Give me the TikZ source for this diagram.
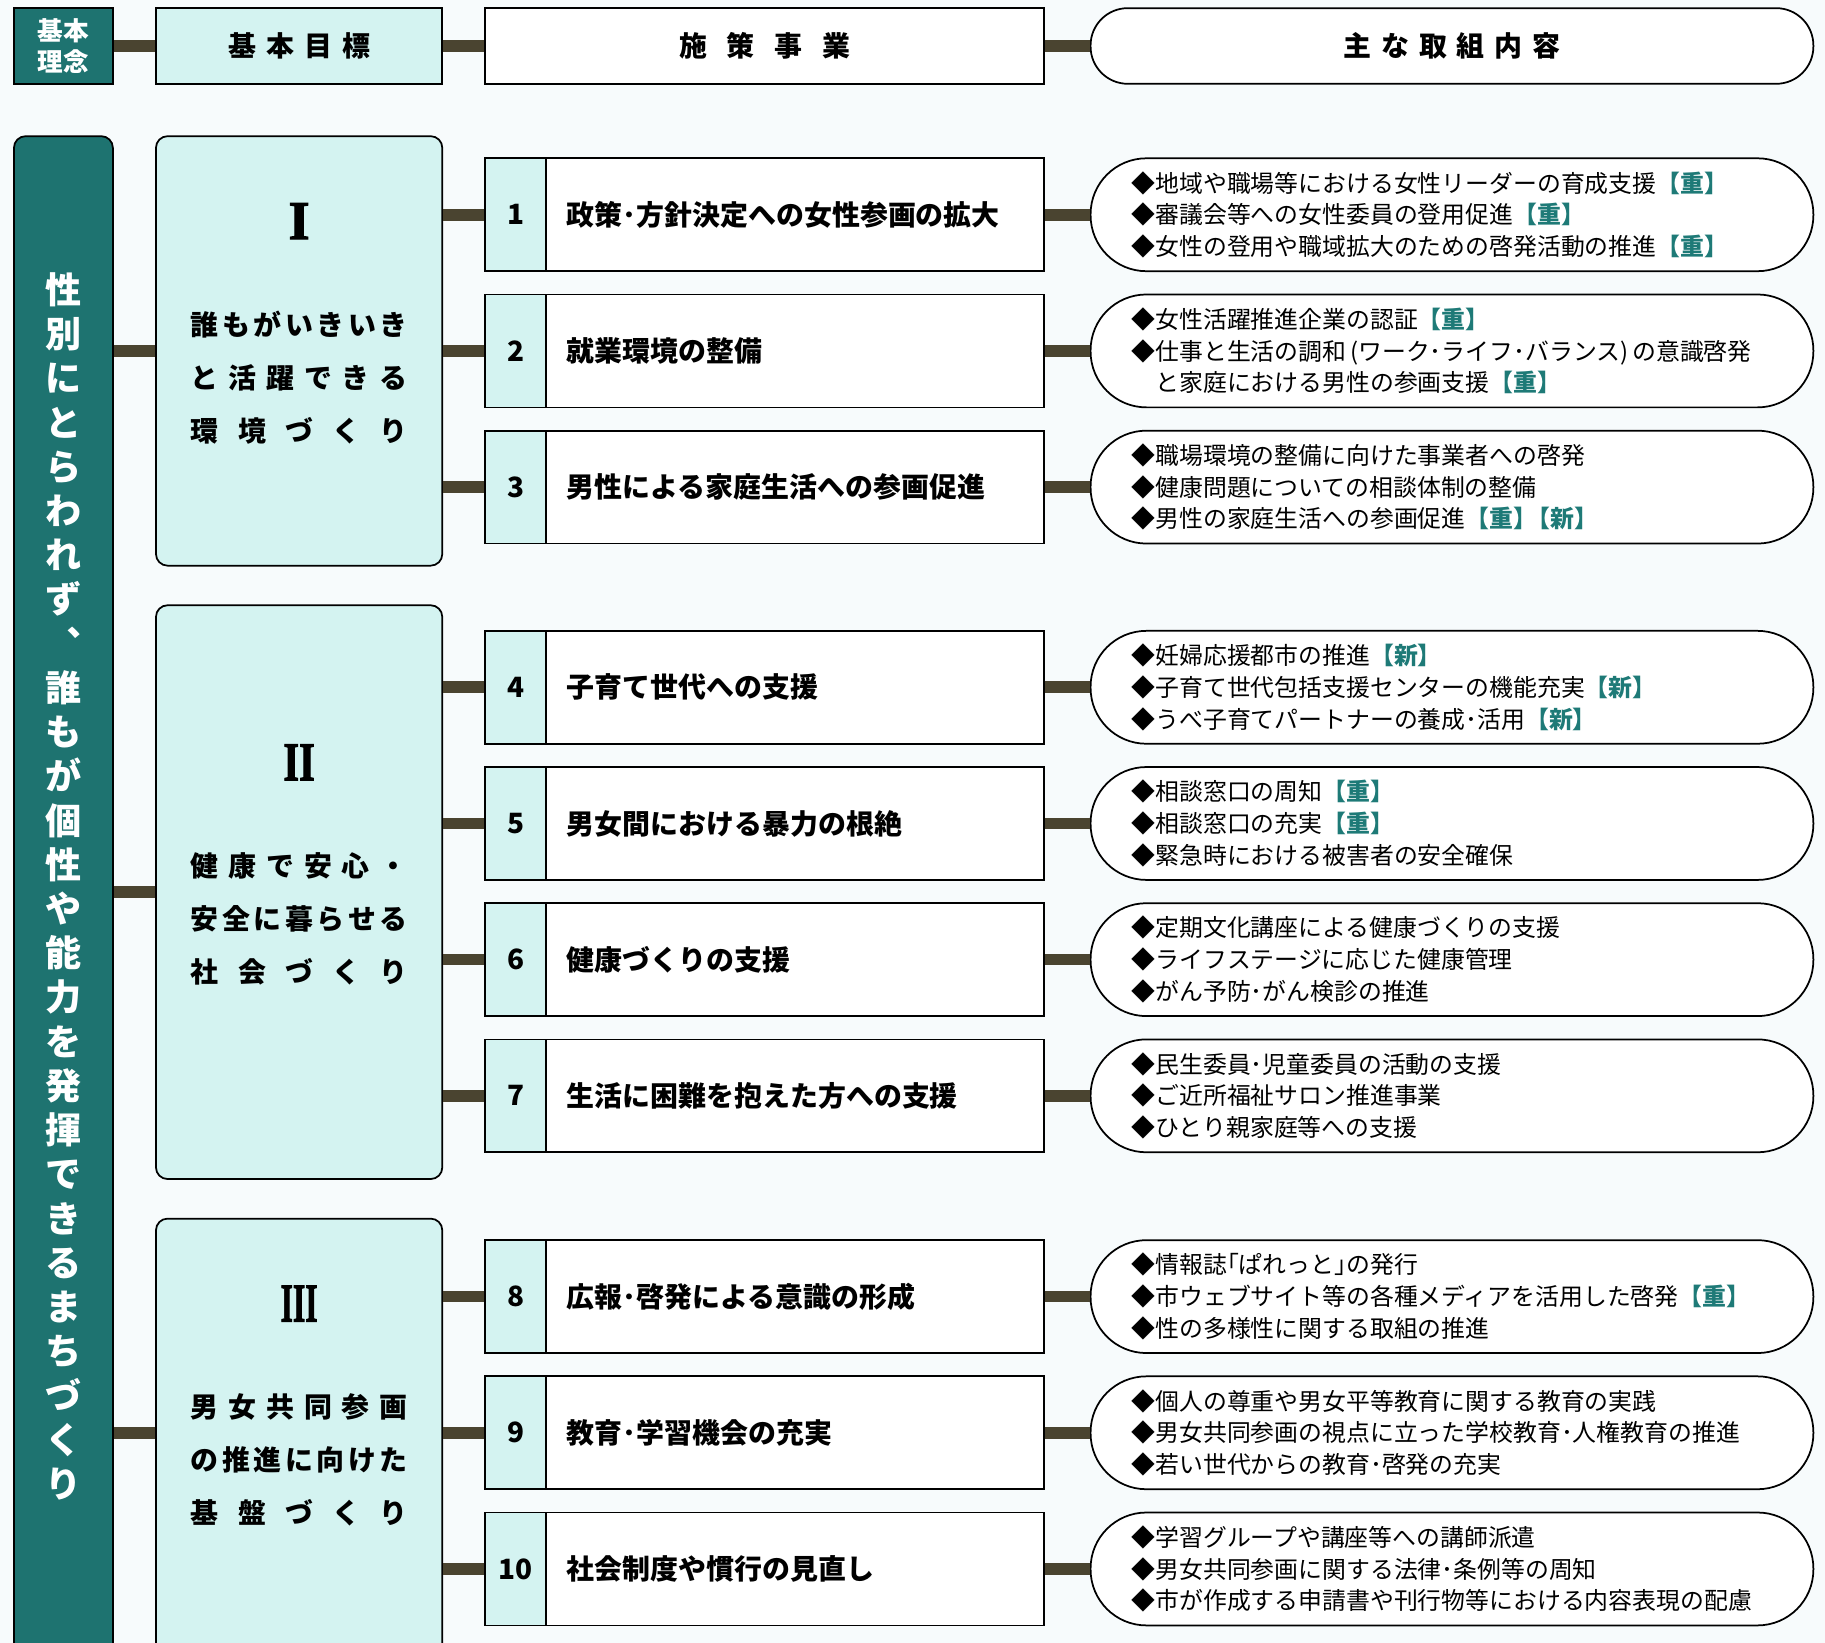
\documentclass[tikz,border=0pt]{standalone}
\usepackage{fontspec}
\usepackage{graphicx}
\setmainfont{Noto Sans CJK JP}
\newfontfamily\romfont{Liberation Serif}[UprightFeatures={FakeBold=2.5}, BoldFeatures={FakeBold=2}]
\definecolor{bgc}{HTML}{F7FBFC}
\definecolor{teal1}{HTML}{1E7370}
\definecolor{lightc}{HTML}{D4F3F1}
\definecolor{connc}{HTML}{4A4430}
\definecolor{tagc}{HTML}{1E7A77}
\def\sprA#1{\ifx#1\relax\else#1\expandafter\sprB\fi}
\def\sprB#1{\ifx#1\relax\else\hfil#1\expandafter\sprB\fi}
\newcommand\spr[2]{\hbox to #1{\sprA#2\relax}}
\newcommand\tg[1]{{\color{tagc}\bfseries【#1】}}
\tikzset{
  conn/.style={line width=10pt, draw=connc},
  bx/.style={draw=black, line width=1.5pt, inner sep=0pt},
  goalbox/.style={bx, fill=lightc, rounded corners=10pt, minimum width=246pt},
  goaltext/.style={font=\bfseries\fontsize{24}{45.5}\selectfont, align=center, inner sep=0pt},
  roman/.style={font=\romfont\bfseries\fontsize{47}{47}\selectfont, inner sep=0pt},
  numcell/.style={bx, fill=lightc, minimum width=52pt, minimum height=97pt, font=\bfseries\fontsize{24}{24}\selectfont},
  titlecell/.style={bx, fill=white, minimum width=428pt, minimum height=97pt, inner xsep=18pt, text width=392pt, align=left, font=\bfseries\fontsize{24}{28}\selectfont},
  capsule/.style={bx, fill=white, rounded corners=48pt, minimum width=621pt, minimum height=97pt},
  captext/.style={anchor=west, align=left, inner sep=0pt, font=\fontsize{20.5}{27.3}\selectfont},
}
\newcommand\prow[5]{%
  \node[numcell] (n#1) at (443,#2) {#1};
  \node[titlecell] (t#1) at (683,#2) {#3};
  \node[capsule] (c#1) at (1247.5,#2) {};
  \node[captext] (ct#1) at (972,#2) {#5};
  \draw[conn] (#4.east |- n#1.west) -- (n#1.west);
  \draw[conn] (t#1.east) -- (c#1.west);
}
\begin{document}
\begin{tikzpicture}[x=1pt,y=-1pt]
\useasboundingbox (0,0) rectangle (1568,1411.6);
\clip (0,0) rectangle (1568,1411.6);
\fill[bgc] (0,0) rectangle (1568,1411.6);

% header row
\node[bx, fill=teal1, minimum width=85pt, minimum height=65pt, text=white, align=center, font=\bfseries\fontsize{22}{27}\selectfont] (h0) at (54.5,39.5) {基本\\理念};
\node[bx, fill=lightc, minimum width=246pt, minimum height=65pt, font=\bfseries\fontsize{24}{28}\selectfont] (h1) at (257,39.5) {\spr{122pt}{基本目標}};
\node[bx, fill=white, minimum width=480pt, minimum height=65pt, font=\bfseries\fontsize{24}{28}\selectfont] (h2) at (657,39.5) {\spr{147pt}{施策事業}};
\node[bx, fill=white, rounded corners=32pt, minimum width=621pt, minimum height=65pt, font=\bfseries\fontsize{24}{28}\selectfont] (h3) at (1247.5,39.5) {\spr{187pt}{主な取組内容}};
\draw[conn] (h0.east) -- (h1.west);
\draw[conn] (h1.east) -- (h2.west);
\draw[conn] (h2.east) -- (h3.west);

% left bar
\node[bx, fill=teal1, rounded corners=10pt, minimum width=85pt, minimum height=1340pt] (bar) at (54.5,787) {};
\node[font=\bfseries\fontsize{31}{38}\selectfont, text=white, align=center, inner sep=0pt] (vt) at (54.5,761.5)
 {性\\別\\に\\と\\ら\\わ\\れ\\ず\\︑\\誰\\も\\が\\個\\性\\や\\能\\力\\を\\発\\揮\\で\\き\\る\\ま\\ち\\づ\\く\\り};

% goal boxes
\node[goalbox, minimum height=369pt] (g1) at (257,301.5) {};
\node[goalbox, minimum height=493pt] (g2) at (257,766.5) {};
\node[goalbox, minimum height=393pt] (g3) at (257,1243.5) {};
\node[roman] (r1) at (257,190) {I};
\node[roman] (r2) at (257,655) {\scalebox{0.74}[1]{II}};
\node[roman] (r3) at (257,1120) {\scalebox{0.58}[1]{III}};
\node[goaltext] (gt1) at (257,324.5) {\spr{186pt}{誰もがいきいき}\\\spr{186pt}{と活躍できる}\\\spr{186pt}{環境づくり}};
\node[goaltext] (gt2) at (257,789.5) {\spr{186pt}{健康で安心・}\\\spr{186pt}{安全に暮らせる}\\\spr{186pt}{社会づくり}};
\node[goaltext] (gt3) at (257,1254.5) {\spr{186pt}{男女共同参画}\\\spr{186pt}{の推進に向けた}\\\spr{186pt}{基盤づくり}};

\prow{1}{184.5}{政策･方針決定への女性参画の拡大}{g1}{◆地域や職場等における女性リーダーの育成支援\tg{重}\\◆審議会等への女性委員の登用促進\tg{重}\\◆女性の登用や職域拡大のための啓発活動の推進\tg{重}}
\prow{2}{301.5}{就業環境の整備}{g1}{◆女性活躍推進企業の認証\tg{重}\\◆仕事と生活の調和\,(ワーク･ライフ･バランス)\,の意識啓発\\　と家庭における男性の参画支援\tg{重}}
\prow{3}{418.5}{男性による家庭生活への参画促進}{g1}{◆職場環境の整備に向けた事業者への啓発\\◆健康問題についての相談体制の整備\\◆男性の家庭生活への参画促進\tg{重}\kern-0.45em\tg{新}}
\prow{4}{590.5}{子育て世代への支援}{g2}{◆妊婦応援都市の推進\tg{新}\\◆子育て世代包括支援センターの機能充実\tg{新}\\◆うべ子育てパートナーの養成･活用\tg{新}}
\prow{5}{707.5}{男女間における暴力の根絶}{g2}{◆相談窓口の周知\tg{重}\\◆相談窓口の充実\tg{重}\\◆緊急時における被害者の安全確保}
\prow{6}{824.5}{健康づくりの支援}{g2}{◆定期文化講座による健康づくりの支援\\◆ライフステージに応じた健康管理\\◆がん予防･がん検診の推進}
\prow{7}{941.5}{生活に困難を抱えた方への支援}{g2}{◆民生委員･児童委員の活動の支援\\◆ご近所福祉サロン推進事業\\◆ひとり親家庭等への支援}
\prow{8}{1114}{広報･啓発による意識の形成}{g3}{◆情報誌｢ぱれっと｣の発行\\◆市ウェブサイト等の各種メディアを活用した啓発\tg{重}\\◆性の多様性に関する取組の推進}
\prow{9}{1231}{教育･学習機会の充実}{g3}{◆個人の尊重や男女平等教育に関する教育の実践\\◆男女共同参画の視点に立った学校教育･人権教育の推進\\◆若い世代からの教育･啓発の充実}
\prow{10}{1348}{社会制度や慣行の見直し}{g3}{◆学習グループや講座等への講師派遣\\◆男女共同参画に関する法律･条例等の周知\\◆市が作成する申請書や刊行物等における内容表現の配慮}

% bar to goals
\draw[conn] (bar.east |- g1.west) -- (g1.west);
\draw[conn] (bar.east |- g2.west) -- (g2.west);
\draw[conn] (bar.east |- n9.west) -- (g3.west |- n9.west);
\end{tikzpicture}
\end{document}
